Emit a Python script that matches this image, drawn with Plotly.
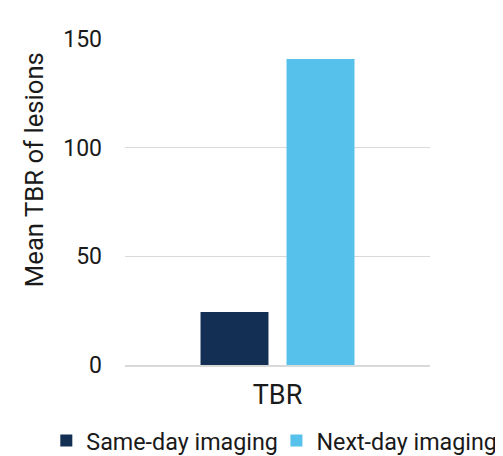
import plotly.graph_objects as go

categories = ["TBR"]
series_names = ["Same-day imaging", "Next-day imaging"]
same_day = [24.4]
next_day = [140.8]
colors = ["#133054", "#56C1EA"]
y_title = "Mean TBR of lesions"

fig = go.Figure()
for i, (name, vals, c) in enumerate(zip(series_names, [same_day, next_day], colors)):
    fig.add_trace(go.Bar(x=categories, y=vals, name=name, marker_color=c, marker_line_width=0,
                         legend="legend" if i == 0 else "legend2"))

leg_common = dict(orientation="h", yanchor="top", y=-0.165, xanchor="left",
                  font=dict(family="Roboto", size=23.3, color="#1a1a1a"), bgcolor="rgba(0,0,0,0)")

fig.update_layout(
    width=495, height=448,
    margin=dict(l=117, r=73, t=31, b=91, autoexpand=False),
    paper_bgcolor="white", plot_bgcolor="white",
    font=dict(family="Roboto", size=23, color="#1a1a1a"),
    barmode="group", bargap=0.436, bargroupgap=0.21,
    legend=dict(x=-0.258, **leg_common),
    legend2=dict(x=0.4965, **leg_common),
    showlegend=True,
)
fig.add_annotation(text=y_title, textangle=-90, xref="paper", yref="paper",
                   x=-0.298, y=0.598, xanchor="center", yanchor="middle", showarrow=False,
                   font=dict(family="Roboto", size=25.7, color="#1a1a1a"))
fig.update_yaxes(range=[0, 150], tickvals=[0, 50, 100, 150], showgrid=True, gridcolor="#d9d9d9",
                 gridwidth=1, zeroline=False, showline=False, ticks="", ticklabelstandoff=22,
                 automargin=False, tickfont=dict(size=23))
fig.update_xaxes(showline=True, linecolor="#d9d9d9", linewidth=2, ticks="", automargin=False,
                 tickfont=dict(size=27), ticklabelstandoff=5)

fig.write_html("out.html")
